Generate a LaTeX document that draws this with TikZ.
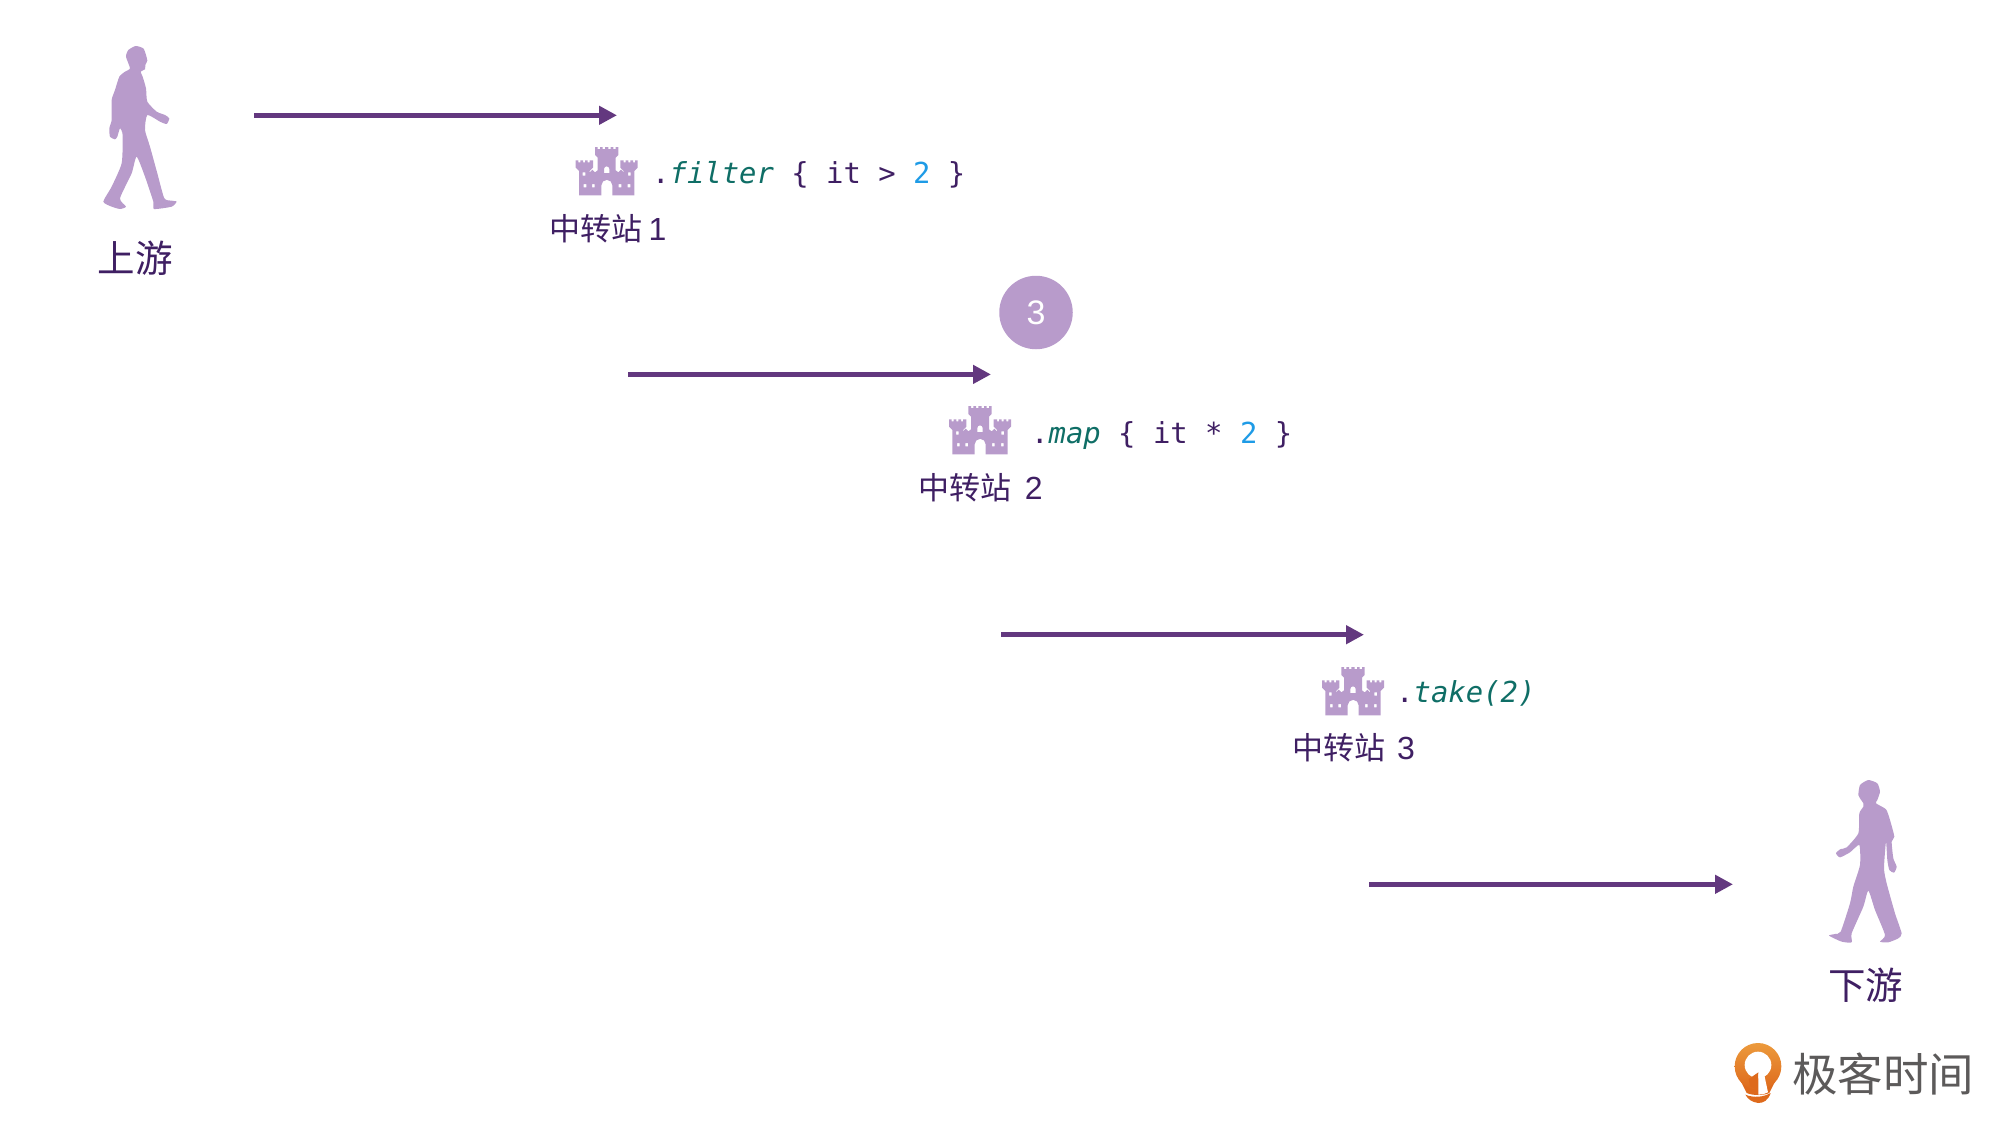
\documentclass[tikz,border=0pt]{standalone}
\usepackage{fontspec}
\setmainfont{Liberation Sans}
\newfontfamily\cjk{Noto Sans CJK SC}
\newfontfamily\code{DejaVu Sans Mono}
\usetikzlibrary{arrows.meta}
\definecolor{lav}{HTML}{B89BCB}
\definecolor{ink}{HTML}{3F1F63}
\definecolor{arrowc}{HTML}{63387F}
\definecolor{teal}{HTML}{0F6E66}
\definecolor{sky}{HTML}{1E9BE6}
\definecolor{logogray}{HTML}{5C5A5A}
\definecolor{logotop}{HTML}{EC9A3C}
\definecolor{logobot}{HTML}{DE6A1C}
\newcommand{\tl}[1]{\textcolor{teal}{\itshape #1}}
\newcommand{\sk}[1]{\textcolor{sky}{#1}}
\newcommand{\dg}[2]{\hspace{#1}{\rmfamily\fontsize{32}{34}\selectfont #2}}
\tikzset{
  flowarrow/.style={draw=arrowc,line width=5pt,-{Triangle[length=18pt,width=18pt]}},
  codetext/.style={anchor=base west,inner sep=0pt,font=\code\fontsize{28.9}{30}\selectfont,text=ink},
  stationtext/.style={anchor=west,inner sep=0pt,font=\cjk\fontsize{31}{33}\selectfont,text=ink},
  walktext/.style={anchor=center,inner sep=0pt,font=\cjk\fontsize{37.5}{39}\selectfont,text=ink},
  pics/castle/.style={code={
    \fill[lav,even odd rule,x=0.3333pt,y=-0.3333pt]
      (10,145)--(10,72)--(0,62)--(0,40)--(8,40)--(8,46)--(14,46)--(14,40)--(22,40)--(22,46)--(28,46)--(28,40)--(36,40)--(36,46)--(42,46)--(42,40)--(52,40)--(52,62)--(42,72)--(42,76)
      --(50,68)--(58,76)--(66,70)
      --(66,32)--(58,24)--(58,0)--(66,0)--(66,6)--(73,6)--(73,0)--(81,0)--(81,6)--(88,6)--(88,0)--(98,0)--(98,6)--(105,6)--(105,0)--(113,0)--(113,6)--(120,6)--(120,0)--(128,0)--(128,24)--(120,32)--(120,70)
      --(128,76)--(136,68)--(144,76)
      --(144,72)--(134,62)--(134,40)--(144,40)--(144,46)--(150,46)--(150,40)--(158,40)--(158,46)--(164,46)--(164,40)--(172,40)--(172,46)--(178,46)--(178,40)--(186,40)--(186,62)--(176,72)--(176,145)
      --(110,145)--(110,115) arc[start angle=0,end angle=-180,radius=16.5] --(77,145)--cycle
      (85,78)--(85,66) arc[start angle=180,end angle=360,radius=8] --(101,78)--cycle
      (24,111) rectangle (32,121) (49,111) rectangle (57,121)
      (129,111) rectangle (137,121) (156,111) rectangle (164,121)
      (21,76) rectangle (29,86) (157,76) rectangle (165,86);
  }},
}
\begin{document}
\begin{tikzpicture}[x=1pt,y=-1pt]
\useasboundingbox (0,0) rectangle (2000,1125);
% upstream walker
\fill[lav,shift={(70,20)},x=0.3333pt,y=-0.3333pt] plot[smooth cycle,tension=0.35] coordinates {
(180,145)(168,110)(175,90)(197,78)(220,85)(228,105)(232,122)(226,135)(225,148)(212,155)(218,170)(228,205)(232,245)(260,275)(285,285)(298,295)(290,312)(270,305)(232,285)(225,330)(240,380)(262,460)(283,535)(305,542)(320,545)(305,560)(252,567)(250,545)(225,470)(200,410)(185,460)(150,535)(168,560)(150,567)(125,560)(100,545)(125,500)(155,430)(158,345)(150,325)(142,350)(135,358)(120,350)(118,325)(125,300)(125,240)(135,210)(148,170)(165,155)};
% downstream walker
\fill[lav,shift={(1800,770)},x=0.3333pt,y=-0.3333pt] plot[smooth cycle,tension=0.35] coordinates {
(190,100)(180,85)(175,75)(180,45)(205,30)(232,40)(240,65)(232,90)(228,100)(258,118)(270,150)(283,200)(275,215)(280,265)(290,290)(282,308)(268,300)(262,270)(258,215)(252,295)(260,340)(285,430)(305,490)(295,505)(265,517)(240,515)(255,495)(225,420)(205,362)(190,410)(155,490)(155,517)(125,515)(87,497)(105,492)(122,485)(150,400)(160,350)(180,285)(178,225)(150,247)(120,262)(108,250)(120,238)(140,232)(175,190)(178,130)(190,110)};
\node[walktext] (up) at (135,258.5) {上游};
\node[walktext] (down) at (1865.5,985.5) {下游};
% arrows
\coordinate (a1s) at (254,115.3); \coordinate (a1e) at (617,115.3);
\coordinate (a2s) at (628,374.4); \coordinate (a2e) at (991,374.4);
\coordinate (a3s) at (1001,634.7); \coordinate (a3e) at (1364,634.7);
\coordinate (a4s) at (1369,884.3); \coordinate (a4e) at (1733,884.3);
\draw[flowarrow] (a1s) -- (a1e);
\draw[flowarrow] (a2s) -- (a2e);
\draw[flowarrow] (a3s) -- (a3e);
\draw[flowarrow] (a4s) -- (a4e);
% stations
\pic at (575.7,147) {castle};
\pic at (949,406) {castle};
\pic at (1322,667) {castle};
\node[codetext] (c1) at (652,183) {.\tl{filter} \{ it > \sk{2} \}};
\node[codetext] (c2) at (1031,443) {.\tl{map} \{ it * \sk{2} \}};
\node[codetext] (c3) at (1396,702) {.\tl{take(2)}};
\node[stationtext] (s1) at (549,229) {中转站 \dg{-0.5pt}{1}};
\node[stationtext] (s2) at (918.7,487.8) {中转站 \dg{6pt}{2}};
\node[stationtext] (s3) at (1292.5,747.5) {中转站 \dg{4.5pt}{3}};
% marker
\node[circle,fill=lav,minimum size=73.5pt,inner sep=0pt,text=white,font=\fontsize{34}{36}\selectfont] (m) at (1036,312.5) {3};
% logo
\begin{scope}[shift={(1730,1043)},x=0.3333pt,y=-0.3333pt]
\fill[logobot] (30,110) -- (138,110) -- (118,150) .. controls (100,158) and (68,158) .. (50,150) -- cycle;
\shade[top color=logotop,bottom color=logobot] (84,70) circle[radius=70];
\fill[white] (84,66) circle[radius=40];
\fill[logobot] (85,88) -- (56,108) -- (60,130) -- (85,140) -- cycle;
\fill[white] (85,92) -- (102,92) -- (114,148) .. controls (105,153) and (95,155) .. (85,155) -- cycle;
\fill[logobot] (46,155) .. controls (70,165) and (100,163) .. (122,150) .. controls (115,172) and (100,180) .. (85,180) .. controls (68,178) and (54,170) .. (46,155) -- cycle;
\end{scope}
\node[anchor=center,inner sep=0pt,text=logogray,font=\cjk\fontsize{45.5}{48}\selectfont] (logo) at (1883,1074) {极客时间};
\end{tikzpicture}
\end{document}
